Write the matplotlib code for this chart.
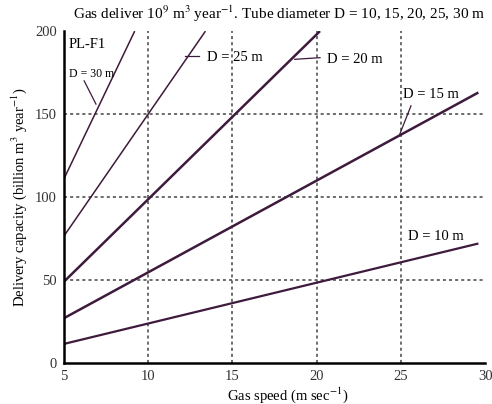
import matplotlib
matplotlib.use("Agg")
import matplotlib.pyplot as plt
import numpy as np

# gas speed (m/s) at start and end of each line, and capacity
speed_start = [5, 5, 5, 5, 5]
speed_end = [29.6, 29.6, 20.2, 13.4, 9.2]
cap_start = [11.5, 27, 49, 76.5, 111]
cap_end = [72, 163, 200, 200, 200]
diameters = ["D = 10 m", "D = 15 m", "D = 20 m", "D = 25 m", "D = 30 m"]
line_widths = [1.6, 1.8, 1.8, 1.1, 1.1]

x_ticks = [5, 10, 15, 20, 25, 30]
y_ticks = [0, 50, 100, 150, 200]

plt.rcParams['font.family'] = ['Liberation Serif', 'DejaVu Serif']
plt.rcParams['mathtext.fontset'] = 'stix'

fig = plt.figure(figsize=(4.92, 4.04), dpi=100)
ax = fig.add_axes([0.130, 0.1015, 0.856, 0.8215])

for i in range(len(diameters)):
    ax.plot([speed_start[i], speed_end[i]], [cap_start[i], cap_end[i]],
            color='#3e1a3c', lw=line_widths[i], solid_capstyle='butt')

ax.set_xlim(5, 30)
ax.set_ylim(0, 200)
ax.set_xticks(x_ticks)
ax.set_yticks(y_ticks)
ax.tick_params(axis='both', labelsize=10.5, length=0, pad=5, colors='#333333')

# dashed grid at inner ticks
for gx in x_ticks[1:-1]:
    ax.axvline(gx, color='#444444', lw=1.1, ls=(0, (2, 2)), zorder=0)
for gy in y_ticks[1:-1]:
    ax.axhline(gy, color='#444444', lw=1.1, ls=(0, (2, 2)), zorder=0)

for s in ['top', 'right']:
    ax.spines[s].set_visible(False)
ax.spines['left'].set_linewidth(1.8)
ax.spines['bottom'].set_linewidth(1.8)

ax.set_title(r"Gas deliver 10$^9$ m$^3$ year$^{-1}$. Tube diameter D = 10, 15, 20, 25, 30 m",
             fontsize=11, x=0.51, pad=9)
ax.set_xlabel(r"Gas speed (m sec$^{-1}$)", fontsize=10.5, labelpad=2, x=0.53)
ax.set_ylabel(r"Delivery capacity (billion m$^3$ year$^{-1}$)", fontsize=10.5, labelpad=4)

# labels for each tube
ax.text(5.3, 192, "PL-F1", fontsize=10.5, va='center')
ax.text(5.3, 174, diameters[4], fontsize=8.5, va='center')
ax.plot([6.2, 6.9], [170, 156], color='#3e1a3c', lw=0.9)
ax.text(13.5, 184, diameters[3], fontsize=10.5, va='center')
ax.plot([12.2, 13.0], [185, 185], color='#3e1a3c', lw=0.9)
ax.text(20.6, 183, diameters[2], fontsize=10.5, va='center')
ax.plot([18.7, 20.2], [183, 184], color='#3e1a3c', lw=0.9)
ax.text(25.1, 162, diameters[1], fontsize=10.5, va='center')
ax.plot([25.6, 24.9], [155, 137], color='#3e1a3c', lw=0.9)
ax.text(25.4, 76, diameters[0], fontsize=10.5, va='center')

fig.savefig("out.png", dpi=100)
